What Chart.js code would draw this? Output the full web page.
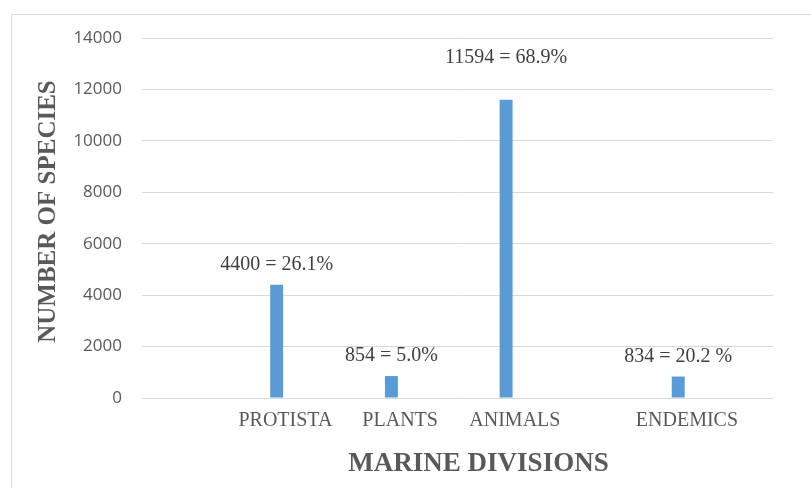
<!DOCTYPE html>
<html>
<head>
<meta charset="utf-8">
<title>Marine divisions</title>
<script src="https://cdn.jsdelivr.net/npm/chart.js@4/dist/chart.umd.min.js"></script>
<style>
  html, body { margin: 0; padding: 0; background: #ffffff; }
  #wrap { width: 811px; height: 488px; }
</style>
</head>
<body>
<div id="wrap"><canvas id="chart" width="811" height="488"></canvas></div>
<script>
// Species counts per marine division
const divisions = ['PROTISTA', 'PLANTS', 'ANIMALS', 'ENDEMICS'];
const speciesCounts = [4400, 854, 11594, 834];
const shares = ['26.1%', '5.0%', '68.9%', '20.2 %'];
const yTicks = [0, 2000, 4000, 6000, 8000, 10000, 12000, 14000];

// Layout: the category axis has 11 slots; divisions sit in these slots
const slotCount = 11;
const divisionSlot = [2, 4, 6, 9];
// How far each value label sits above its bar (px)
const labelLift = [20, 20, 42, 20];

const slotLabels = Array(slotCount).fill('');
const slotValues = Array(slotCount).fill(null);
const slotText = Array(slotCount).fill(null);
const slotLift = Array(slotCount).fill(0);
divisions.forEach((d, i) => {
  const s = divisionSlot[i];
  slotLabels[s] = d;
  slotValues[s] = speciesCounts[i];
  slotText[s] = speciesCounts[i] + ' = ' + shares[i];
  slotLift[s] = labelLift[i];
});

const SERIF = '"Liberation Serif", "Times New Roman", serif';
const SANS = '"Open Sans", "Liberation Sans", sans-serif';

const decorations = {
  id: 'decorations',
  beforeDraw(chart) {
    const ctx = chart.ctx;
    ctx.save();
    ctx.strokeStyle = '#d9d9d9';
    ctx.lineWidth = 1;
    ctx.beginPath();
    ctx.moveTo(11.5, 488);
    ctx.lineTo(11.5, 14.5);
    ctx.lineTo(811, 14.5);
    ctx.stroke();
    ctx.restore();
  },
  afterDatasetsDraw(chart) {
    const ctx = chart.ctx;
    const meta = chart.getDatasetMeta(0);
    ctx.save();
    ctx.font = '20px ' + SERIF;
    ctx.fillStyle = '#404040';
    ctx.textAlign = 'center';
    ctx.textBaseline = 'middle';
    meta.data.forEach((bar, i) => {
      if (slotText[i] === null) return;
      ctx.fillText(slotText[i], bar.x, bar.y - slotLift[i]);
    });
    ctx.restore();
  },
  afterDraw(chart) {
    const ctx = chart.ctx;
    ctx.save();
    ctx.fillStyle = '#595959';
    ctx.textAlign = 'center';
    ctx.textBaseline = 'middle';
    ctx.font = 'bold 27px ' + SERIF;
    ctx.fillText('MARINE DIVISIONS', 478.5, 464);
    ctx.translate(49, 211.5);
    ctx.rotate(-Math.PI / 2);
    ctx.font = 'bold 25px ' + SERIF;
    ctx.fillText('NUMBER OF SPECIES', 0, 0);
    ctx.restore();
  }
};

new Chart(document.getElementById('chart'), {
  type: 'bar',
  data: {
    labels: slotLabels,
    datasets: [
      {
        label: 'Species',
        data: slotValues,
        backgroundColor: '#5b9bd5',
        borderWidth: 0,
        categoryPercentage: 0.61,
        barPercentage: 0.74
      },
      {
        label: '',
        data: Array(slotCount).fill(null),
        backgroundColor: 'rgba(0,0,0,0)',
        categoryPercentage: 0.61,
        barPercentage: 0.74
      }
    ]
  },
  options: {
    responsive: false,
    animation: false,
    devicePixelRatio: 1,
    layout: { padding: { left: 0, top: 38, right: 38, bottom: 0 } },
    plugins: {
      legend: { display: false },
      tooltip: { enabled: false }
    },
    scales: {
      x: {
        grid: { display: false, drawTicks: false },
        border: { display: false },
        ticks: {
          autoSkip: false,
          maxRotation: 0,
          minRotation: 0,
          padding: 11,
          color: '#595959',
          font: { family: SERIF, size: 20 }
        },
        afterFit(scale) { scale.height = 90; }
      },
      y: {
        min: 0,
        max: 14000,
        afterBuildTicks(scale) { scale.ticks = yTicks.map(v => ({ value: v })); },
        grid: { color: '#d9d9d9', lineWidth: 1, drawTicks: false },
        border: { display: false },
        ticks: {
          padding: 20,
          color: '#595959',
          font: { family: SANS, size: 17 },
          callback: (v) => String(v)
        },
        afterFit(scale) { scale.width = 142; }
      }
    }
  },
  plugins: [decorations]
});
</script>
</body>
</html>
